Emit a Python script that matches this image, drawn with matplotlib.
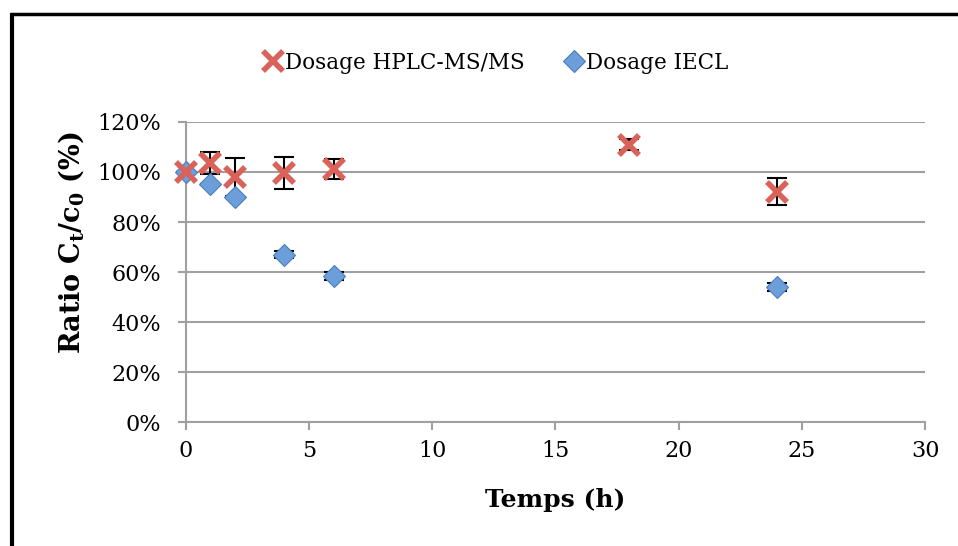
import numpy as np
import matplotlib.pyplot as plt
from matplotlib.lines import Line2D
from matplotlib.ticker import FuncFormatter

plt.rcParams['font.family'] = 'DejaVu Serif'
plt.rcParams['mathtext.fontset'] = 'dejavuserif'

# Données
temps_hplc = [0, 1, 2, 4, 6, 18, 24]
ratio_hplc = [100, 103.5, 98, 99.5, 101, 110.8, 92]
err_hplc = [0, 4.3, 7.5, 6.3, 4.0, 2.2, 5.4]

temps_iecl = [0, 1, 2, 4, 6, 24]
ratio_iecl = [100, 95, 90, 67, 58.5, 54]
err_iecl = [0, 0, 0, 1.5, 1.5, 1.5]

fig = plt.figure(figsize=(9.58, 5.46), dpi=100)
ax = fig.add_axes([0.194, 0.227, 0.7716, 0.5496])

rouge = '#D9625A'
bleu = '#6C9FDA'

ax.errorbar(temps_iecl, ratio_iecl, yerr=err_iecl, fmt='none', ecolor='black',
            elinewidth=1.5, capsize=7, capthick=1.5, zorder=3, clip_on=False)
ax.plot(temps_iecl, ratio_iecl, 'D', ms=11.5, color=bleu, mec='#4A7DBB', mew=0.8,
        label='Dosage IECL', zorder=4, clip_on=False)
ax.errorbar(temps_hplc, ratio_hplc, yerr=err_hplc, fmt='none', ecolor='black',
            elinewidth=1.5, capsize=7, capthick=1.5, zorder=3, clip_on=False)
ax.plot(temps_hplc, ratio_hplc, 'x', ms=15, color=rouge, mew=4,
        label='Dosage HPLC-MS/MS', zorder=5, clip_on=False)

ax.set_xlim(0, 30)
ax.set_ylim(0, 120)
ax.set_xticks(np.arange(0, 31, 5))
ax.set_yticks(np.arange(0, 121, 20))
ax.yaxis.set_major_formatter(FuncFormatter(lambda v, p: '%d%%' % v))
ax.grid(axis='y', color='#A0A0A0', lw=1.5)
ax.set_axisbelow(True)
for s in ['top', 'right']:
    ax.spines[s].set_visible(False)
for s in ['left', 'bottom']:
    ax.spines[s].set_color('#A0A0A0')
    ax.spines[s].set_linewidth(1.5)
ax.tick_params(axis='both', colors='#A0A0A0', labelcolor='black', labelsize=16,
               length=6, width=1.5)
ax.tick_params(axis='y', pad=12)
ax.tick_params(axis='x', pad=7)

ax.set_xlabel('Temps (h)', fontsize=18, fontweight='bold')
ax.set_ylabel(r'Ratio C$_\mathbf{t}$/c$_\mathbf{0}$ (%)', fontsize=19.5,
              fontweight='bold')
ax.xaxis.set_label_coords(0.5, -0.22)
ax.yaxis.set_label_coords(-0.135, 0.597)

h, l = ax.get_legend_handles_labels()
fig.legend(h[::-1], l[::-1], loc='center', bbox_to_anchor=(0.518, 0.885), ncol=2,
           frameon=False, fontsize=15.5, handlelength=0.8, handletextpad=0.15,
           columnspacing=1.9)

# cadre
fig.add_artist(Line2D([12 / 958, 12 / 958], [0, 1 - 13 / 546], color='black',
                      lw=3, solid_capstyle='butt'))
fig.add_artist(Line2D([10 / 958, 1], [1 - 14 / 546, 1 - 14 / 546], color='black',
                      lw=2.5, solid_capstyle='butt'))

fig.savefig('out.png', dpi=100)
